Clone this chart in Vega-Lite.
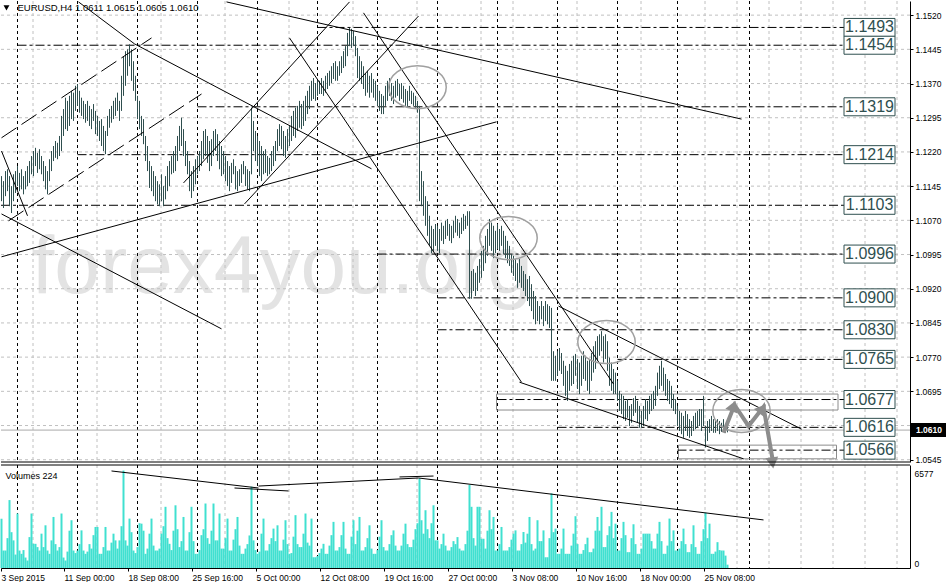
{
"$schema":"https://vega.github.io/schema/vega-lite/v6.json",
"padding":0,
"background":"#ffffff",
"spacing":3,
"bounds":"flush",
"config":{"view":{"stroke":null},"font":"Liberation Sans","axis":{"labelOverlap":false,"labelBound":false,"labelFlush":false}},
"datasets":{
"bars":[
{"i":0,"h":1.1167,"l":1.1112,"v":3300},{"i":1,"h":1.1156,"l":1.1097,"v":1170},{"i":2,"h":1.1178,"l":1.1123,"v":1170},{"i":3,"h":1.1182,"l":1.1134,"v":2000},{"i":4,"h":1.1167,"l":1.1101,"v":4550},{"i":5,"h":1.1145,"l":1.1086,"v":2400},{"i":6,"h":1.1171,"l":1.1112,"v":1850},{"i":7,"h":1.1178,"l":1.113,"v":900},{"i":8,"h":1.1189,"l":1.1145,"v":3650},{"i":9,"h":1.1174,"l":1.1134,"v":1170},
{"i":10,"h":1.1182,"l":1.1138,"v":950},{"i":11,"h":1.1167,"l":1.1127,"v":1200},{"i":12,"h":1.1178,"l":1.1138,"v":700},{"i":13,"h":1.1189,"l":1.1145,"v":500},{"i":14,"h":1.12,"l":1.1152,"v":2070},{"i":15,"h":1.1211,"l":1.1171,"v":3650},{"i":16,"h":1.1222,"l":1.1167,"v":1620},{"i":17,"h":1.1229,"l":1.1189,"v":1620},{"i":18,"h":1.1218,"l":1.1174,"v":1400},{"i":19,"h":1.1226,"l":1.1182,"v":1170},
{"i":20,"h":1.1211,"l":1.1171,"v":2300},{"i":21,"h":1.12,"l":1.1156,"v":1400},{"i":22,"h":1.1189,"l":1.1138,"v":2860},{"i":23,"h":1.1178,"l":1.1127,"v":1170},{"i":24,"h":1.1204,"l":1.1156,"v":950},{"i":25,"h":1.1222,"l":1.1178,"v":1850},{"i":26,"h":1.1233,"l":1.12,"v":3420},{"i":27,"h":1.1244,"l":1.1207,"v":1600},{"i":28,"h":1.124,"l":1.1204,"v":1170},{"i":29,"h":1.1255,"l":1.1211,"v":1400},
{"i":30,"h":1.1299,"l":1.1222,"v":3650},{"i":31,"h":1.1314,"l":1.1255,"v":700},{"i":32,"h":1.1339,"l":1.127,"v":500},{"i":33,"h":1.1332,"l":1.1266,"v":1100},{"i":34,"h":1.1343,"l":1.1277,"v":2500},{"i":35,"h":1.1354,"l":1.1292,"v":3200},{"i":36,"h":1.135,"l":1.1288,"v":1170},{"i":37,"h":1.1365,"l":1.131,"v":1000},{"i":38,"h":1.1369,"l":1.1321,"v":1170},{"i":39,"h":1.1354,"l":1.1306,"v":1600},
{"i":40,"h":1.1339,"l":1.1299,"v":2520},{"i":41,"h":1.1332,"l":1.1292,"v":1170},{"i":42,"h":1.1325,"l":1.1284,"v":950},{"i":43,"h":1.1332,"l":1.1288,"v":1100},{"i":44,"h":1.1321,"l":1.1277,"v":1600},{"i":45,"h":1.1314,"l":1.127,"v":1300},{"i":46,"h":1.1325,"l":1.1288,"v":2200},{"i":47,"h":1.131,"l":1.1259,"v":2750},{"i":48,"h":1.1299,"l":1.1255,"v":2750},{"i":49,"h":1.1288,"l":1.1244,"v":950},
{"i":50,"h":1.1292,"l":1.1233,"v":950},{"i":51,"h":1.1277,"l":1.1222,"v":1400},{"i":52,"h":1.1266,"l":1.1215,"v":2750},{"i":53,"h":1.1299,"l":1.1255,"v":1170},{"i":54,"h":1.1314,"l":1.1273,"v":1170},{"i":55,"h":1.1321,"l":1.1284,"v":1700},{"i":56,"h":1.1332,"l":1.1292,"v":2300},{"i":57,"h":1.1339,"l":1.1299,"v":1850},{"i":58,"h":1.135,"l":1.131,"v":1300},{"i":59,"h":1.1332,"l":1.1288,"v":1850},
{"i":60,"h":1.1387,"l":1.131,"v":2800},{"i":61,"h":1.143,"l":1.1343,"v":6525},{"i":62,"h":1.1441,"l":1.1365,"v":1850},{"i":63,"h":1.1445,"l":1.1387,"v":1500},{"i":64,"h":1.1456,"l":1.1408,"v":3310},{"i":65,"h":1.1445,"l":1.1376,"v":2400},{"i":66,"h":1.1419,"l":1.1354,"v":1170},{"i":67,"h":1.1387,"l":1.1332,"v":1000},{"i":68,"h":1.1343,"l":1.1292,"v":1400},{"i":69,"h":1.1332,"l":1.127,"v":3000},
{"i":70,"h":1.1299,"l":1.1255,"v":2970},{"i":71,"h":1.1292,"l":1.1237,"v":2500},{"i":72,"h":1.1255,"l":1.12,"v":950},{"i":73,"h":1.1233,"l":1.1178,"v":1300},{"i":74,"h":1.12,"l":1.1141,"v":2300},{"i":75,"h":1.1189,"l":1.1134,"v":3310},{"i":76,"h":1.1178,"l":1.1123,"v":1500},{"i":77,"h":1.1167,"l":1.1112,"v":1170},{"i":78,"h":1.1156,"l":1.1105,"v":1170},{"i":79,"h":1.1149,"l":1.1101,"v":1300},
{"i":80,"h":1.1171,"l":1.1112,"v":2300},{"i":81,"h":1.1145,"l":1.1101,"v":2800},{"i":82,"h":1.1167,"l":1.1116,"v":4100},{"i":83,"h":1.1189,"l":1.1134,"v":2000},{"i":84,"h":1.12,"l":1.1145,"v":1620},{"i":85,"h":1.1211,"l":1.1171,"v":1200},{"i":86,"h":1.1222,"l":1.1174,"v":2500},{"i":87,"h":1.1233,"l":1.1178,"v":4200},{"i":88,"h":1.1255,"l":1.12,"v":2600},{"i":89,"h":1.1277,"l":1.1222,"v":1400},
{"i":90,"h":1.1295,"l":1.1233,"v":1800},{"i":91,"h":1.127,"l":1.1211,"v":3420},{"i":92,"h":1.1244,"l":1.1189,"v":1170},{"i":93,"h":1.1222,"l":1.1171,"v":1170},{"i":94,"h":1.12,"l":1.1134,"v":2400},{"i":95,"h":1.1178,"l":1.1119,"v":4100},{"i":96,"h":1.1189,"l":1.1134,"v":1800},{"i":97,"h":1.1204,"l":1.1149,"v":950},{"i":98,"h":1.1211,"l":1.1171,"v":950},{"i":99,"h":1.1222,"l":1.1178,"v":1200},
{"i":100,"h":1.1244,"l":1.1189,"v":2200},{"i":101,"h":1.1266,"l":1.1204,"v":2600},{"i":102,"h":1.127,"l":1.1211,"v":4320},{"i":103,"h":1.1255,"l":1.1196,"v":2000},{"i":104,"h":1.1244,"l":1.1178,"v":1620},{"i":105,"h":1.1248,"l":1.1189,"v":2500},{"i":106,"h":1.1266,"l":1.1211,"v":4320},{"i":107,"h":1.127,"l":1.1222,"v":1850},{"i":108,"h":1.1259,"l":1.12,"v":1850},{"i":109,"h":1.1244,"l":1.1182,"v":3650},
{"i":110,"h":1.1233,"l":1.1167,"v":1300},{"i":111,"h":1.1222,"l":1.1171,"v":1300},{"i":112,"h":1.1211,"l":1.1156,"v":2000},{"i":113,"h":1.12,"l":1.1145,"v":3310},{"i":114,"h":1.1189,"l":1.1134,"v":1170},{"i":115,"h":1.1196,"l":1.1152,"v":1170},{"i":116,"h":1.1204,"l":1.1171,"v":1900},{"i":117,"h":1.1189,"l":1.1138,"v":2600},{"i":118,"h":1.1178,"l":1.1134,"v":3420},{"i":119,"h":1.1182,"l":1.1145,"v":1500},
{"i":120,"h":1.1193,"l":1.1152,"v":950},{"i":121,"h":1.12,"l":1.1171,"v":950},{"i":122,"h":1.1189,"l":1.1145,"v":1300},{"i":123,"h":1.1182,"l":1.1138,"v":1600},{"i":124,"h":1.1178,"l":1.1134,"v":2180},{"i":125,"h":1.1317,"l":1.1171,"v":5450},{"i":126,"h":1.1288,"l":1.1222,"v":1850},{"i":127,"h":1.1266,"l":1.12,"v":1200},{"i":128,"h":1.1255,"l":1.1189,"v":950},{"i":129,"h":1.1244,"l":1.1167,"v":1100},
{"i":130,"h":1.1233,"l":1.1156,"v":2300},{"i":131,"h":1.1222,"l":1.1171,"v":3310},{"i":132,"h":1.1226,"l":1.1174,"v":1170},{"i":133,"h":1.1211,"l":1.1167,"v":1170},{"i":134,"h":1.1207,"l":1.1171,"v":1600},{"i":135,"h":1.1222,"l":1.1178,"v":2000},{"i":136,"h":1.1233,"l":1.1189,"v":2640},{"i":137,"h":1.1244,"l":1.12,"v":1800},{"i":138,"h":1.127,"l":1.1222,"v":2860},{"i":139,"h":1.1281,"l":1.1233,"v":1170},
{"i":140,"h":1.1277,"l":1.1226,"v":1170},{"i":141,"h":1.1266,"l":1.1211,"v":1900},{"i":142,"h":1.1255,"l":1.1207,"v":3200},{"i":143,"h":1.127,"l":1.1222,"v":1600},{"i":144,"h":1.1277,"l":1.1233,"v":950},{"i":145,"h":1.1299,"l":1.1244,"v":1000},{"i":146,"h":1.131,"l":1.1255,"v":2100},{"i":147,"h":1.1317,"l":1.1251,"v":3540},{"i":148,"h":1.1321,"l":1.1266,"v":1600},{"i":149,"h":1.1332,"l":1.1273,"v":1400},
{"i":150,"h":1.1325,"l":1.127,"v":1400},{"i":151,"h":1.1332,"l":1.1277,"v":2300},{"i":152,"h":1.1343,"l":1.1288,"v":3650},{"i":153,"h":1.1354,"l":1.1303,"v":1700},{"i":154,"h":1.1365,"l":1.1314,"v":1500},{"i":155,"h":1.1376,"l":1.1332,"v":3310},{"i":156,"h":1.1382,"l":1.1336,"v":720},{"i":157,"h":1.1371,"l":1.1332,"v":720},{"i":158,"h":1.138,"l":1.1343,"v":800},{"i":159,"h":1.1376,"l":1.1347,"v":1000},
{"i":160,"h":1.1382,"l":1.1347,"v":1300},{"i":161,"h":1.1376,"l":1.1343,"v":1620},{"i":162,"h":1.1387,"l":1.135,"v":950},{"i":163,"h":1.1393,"l":1.1358,"v":950},{"i":164,"h":1.1398,"l":1.1365,"v":1500},{"i":165,"h":1.1408,"l":1.1371,"v":2200},{"i":166,"h":1.1415,"l":1.138,"v":3090},{"i":167,"h":1.1419,"l":1.1376,"v":1170},{"i":168,"h":1.1408,"l":1.1376,"v":1170},{"i":169,"h":1.1419,"l":1.1387,"v":1400},
{"i":170,"h":1.143,"l":1.1393,"v":2200},{"i":171,"h":1.1441,"l":1.1404,"v":3090},{"i":172,"h":1.1452,"l":1.1408,"v":1300},{"i":173,"h":1.1481,"l":1.143,"v":950},{"i":174,"h":1.1492,"l":1.1452,"v":950},{"i":175,"h":1.149,"l":1.1448,"v":2100},{"i":176,"h":1.1485,"l":1.1452,"v":3200},{"i":177,"h":1.1474,"l":1.143,"v":1600},{"i":178,"h":1.1448,"l":1.1382,"v":2500},{"i":179,"h":1.143,"l":1.1376,"v":3420},
{"i":180,"h":1.1419,"l":1.1369,"v":1170},{"i":181,"h":1.1408,"l":1.1358,"v":1170},{"i":182,"h":1.1393,"l":1.1343,"v":1400},{"i":183,"h":1.1398,"l":1.135,"v":2000},{"i":184,"h":1.1387,"l":1.1339,"v":2860},{"i":185,"h":1.1393,"l":1.135,"v":1300},{"i":186,"h":1.138,"l":1.1339,"v":950},{"i":187,"h":1.1376,"l":1.1332,"v":950},{"i":188,"h":1.1365,"l":1.1321,"v":1200},{"i":189,"h":1.1354,"l":1.131,"v":2100},
{"i":190,"h":1.1347,"l":1.1303,"v":3200},{"i":191,"h":1.1343,"l":1.1303,"v":1400},{"i":192,"h":1.1365,"l":1.1321,"v":1170},{"i":193,"h":1.1376,"l":1.1332,"v":1170},{"i":194,"h":1.1382,"l":1.1343,"v":1600},{"i":195,"h":1.1371,"l":1.1332,"v":2200},{"i":196,"h":1.1365,"l":1.1325,"v":2520},{"i":197,"h":1.1376,"l":1.1339,"v":1500},{"i":198,"h":1.138,"l":1.1343,"v":1170},{"i":199,"h":1.1369,"l":1.1332,"v":1170},
{"i":200,"h":1.1371,"l":1.1336,"v":1500},{"i":201,"h":1.1365,"l":1.1328,"v":2300},{"i":202,"h":1.1358,"l":1.1321,"v":2970},{"i":203,"h":1.1354,"l":1.1317,"v":1600},{"i":204,"h":1.1365,"l":1.1332,"v":1400},{"i":205,"h":1.1354,"l":1.1325,"v":1400},{"i":206,"h":1.135,"l":1.1321,"v":1900},{"i":207,"h":1.1343,"l":1.1317,"v":2600},{"i":208,"h":1.1332,"l":1.1306,"v":3000},{"i":209,"h":1.1321,"l":1.1112,"v":6000},
{"i":210,"h":1.1178,"l":1.1101,"v":3200},{"i":211,"h":1.1156,"l":1.108,"v":2300},{"i":212,"h":1.1123,"l":1.1058,"v":3870},{"i":213,"h":1.1112,"l":1.1036,"v":2600},{"i":214,"h":1.108,"l":1.1014,"v":2000},{"i":215,"h":1.1058,"l":1.0998,"v":3000},{"i":216,"h":1.1051,"l":1.1003,"v":4200},{"i":217,"h":1.1062,"l":1.1014,"v":1850},{"i":218,"h":1.1058,"l":1.1003,"v":1850},{"i":219,"h":1.1051,"l":1.0998,"v":1300},
{"i":220,"h":1.1065,"l":1.1025,"v":1600},{"i":221,"h":1.1058,"l":1.1018,"v":2300},{"i":222,"h":1.1069,"l":1.1029,"v":1500},{"i":223,"h":1.1073,"l":1.1036,"v":1170},{"i":224,"h":1.1062,"l":1.1025,"v":1170},{"i":225,"h":1.1058,"l":1.102,"v":1400},{"i":226,"h":1.1069,"l":1.1031,"v":1800},{"i":227,"h":1.108,"l":1.1043,"v":1600},{"i":228,"h":1.1073,"l":1.1036,"v":2070},{"i":229,"h":1.1065,"l":1.1031,"v":1300},
{"i":230,"h":1.1076,"l":1.104,"v":1170},{"i":231,"h":1.1084,"l":1.1047,"v":1170},{"i":232,"h":1.108,"l":1.1051,"v":1600},{"i":233,"h":1.109,"l":1.1058,"v":2500},{"i":234,"h":1.109,"l":1.0898,"v":5560},{"i":235,"h":1.0959,"l":1.0898,"v":4100},{"i":236,"h":1.0963,"l":1.0915,"v":2000},{"i":237,"h":1.0955,"l":1.0904,"v":1500},{"i":238,"h":1.097,"l":1.0915,"v":4100},{"i":239,"h":1.0985,"l":1.0933,"v":4100},
{"i":240,"h":1.1003,"l":1.0944,"v":1960},{"i":241,"h":1.1014,"l":1.0959,"v":1960},{"i":242,"h":1.1036,"l":1.0976,"v":1300},{"i":243,"h":1.1051,"l":1.0992,"v":2500},{"i":244,"h":1.1073,"l":1.1014,"v":3870},{"i":245,"h":1.1065,"l":1.1003,"v":2600},{"i":246,"h":1.1058,"l":1.0987,"v":3420},{"i":247,"h":1.1047,"l":1.0998,"v":1170},{"i":248,"h":1.1062,"l":1.1007,"v":1170},{"i":249,"h":1.1051,"l":1.1003,"v":1600},
{"i":250,"h":1.1058,"l":1.1014,"v":2750},{"i":251,"h":1.1047,"l":1.0996,"v":1170},{"i":252,"h":1.1036,"l":1.0987,"v":1170},{"i":253,"h":1.1025,"l":1.0976,"v":1170},{"i":254,"h":1.1014,"l":1.097,"v":1400},{"i":255,"h":1.0996,"l":1.0955,"v":1900},{"i":256,"h":1.0992,"l":1.0948,"v":2300},{"i":257,"h":1.0985,"l":1.0937,"v":2520},{"i":258,"h":1.0976,"l":1.0922,"v":1170},{"i":259,"h":1.0985,"l":1.0933,"v":1170},
{"i":260,"h":1.097,"l":1.0922,"v":1600},{"i":261,"h":1.0959,"l":1.0915,"v":2410},{"i":262,"h":1.0952,"l":1.0904,"v":1700},{"i":263,"h":1.0941,"l":1.0893,"v":2300},{"i":264,"h":1.0948,"l":1.0882,"v":3420},{"i":265,"h":1.093,"l":1.0871,"v":1600},{"i":266,"h":1.0915,"l":1.0853,"v":1170},{"i":267,"h":1.0904,"l":1.0842,"v":1300},{"i":268,"h":1.0893,"l":1.0849,"v":3200},{"i":269,"h":1.0882,"l":1.0842,"v":1800},
{"i":270,"h":1.0893,"l":1.0853,"v":1800},{"i":271,"h":1.0882,"l":1.0838,"v":2520},{"i":272,"h":1.0893,"l":1.0849,"v":720},{"i":273,"h":1.0886,"l":1.0842,"v":720},{"i":274,"h":1.0882,"l":1.0834,"v":2000},{"i":275,"h":1.0878,"l":1.0718,"v":5000},{"i":276,"h":1.0783,"l":1.0718,"v":2400},{"i":277,"h":1.0773,"l":1.0718,"v":2640},{"i":278,"h":1.0783,"l":1.0729,"v":950},{"i":279,"h":1.079,"l":1.074,"v":950},
{"i":280,"h":1.0779,"l":1.0733,"v":1300},{"i":281,"h":1.0762,"l":1.0707,"v":2640},{"i":282,"h":1.0751,"l":1.0685,"v":950},{"i":283,"h":1.074,"l":1.0674,"v":950},{"i":284,"h":1.0755,"l":1.0696,"v":950},{"i":285,"h":1.0762,"l":1.0707,"v":1500},{"i":286,"h":1.0773,"l":1.0711,"v":2300},{"i":287,"h":1.0777,"l":1.0729,"v":3470},{"i":288,"h":1.0766,"l":1.07,"v":1600},{"i":289,"h":1.0758,"l":1.0689,"v":950},
{"i":290,"h":1.0773,"l":1.0707,"v":950},{"i":291,"h":1.0783,"l":1.0722,"v":1200},{"i":292,"h":1.0773,"l":1.0718,"v":1600},{"i":293,"h":1.0762,"l":1.0696,"v":2030},{"i":294,"h":1.0766,"l":1.0689,"v":1060},{"i":295,"h":1.0779,"l":1.0718,"v":1060},{"i":296,"h":1.0794,"l":1.0736,"v":1300},{"i":297,"h":1.0805,"l":1.0744,"v":2500},{"i":298,"h":1.0816,"l":1.0762,"v":3420},{"i":299,"h":1.082,"l":1.0773,"v":2500},
{"i":300,"h":1.0827,"l":1.0783,"v":4100},{"i":301,"h":1.0816,"l":1.0758,"v":1400},{"i":302,"h":1.082,"l":1.0766,"v":1400},{"i":303,"h":1.0805,"l":1.074,"v":2200},{"i":304,"h":1.0769,"l":1.0707,"v":2800},{"i":305,"h":1.0758,"l":1.0696,"v":3760},{"i":306,"h":1.0744,"l":1.0689,"v":2000},{"i":307,"h":1.0736,"l":1.0689,"v":2970},{"i":308,"h":1.0718,"l":1.0674,"v":1170},{"i":309,"h":1.0696,"l":1.0652,"v":1170},
{"i":310,"h":1.0689,"l":1.0645,"v":2000},{"i":311,"h":1.0685,"l":1.0634,"v":3090},{"i":312,"h":1.0674,"l":1.063,"v":2200},{"i":313,"h":1.0678,"l":1.0637,"v":1060},{"i":314,"h":1.0663,"l":1.0619,"v":1060},{"i":315,"h":1.0667,"l":1.0626,"v":2000},{"i":316,"h":1.068,"l":1.0641,"v":2930},{"i":317,"h":1.0685,"l":1.0648,"v":1600},{"i":318,"h":1.0674,"l":1.0626,"v":950},{"i":319,"h":1.0663,"l":1.0615,"v":950},
{"i":320,"h":1.0652,"l":1.0615,"v":1300},{"i":321,"h":1.0663,"l":1.0619,"v":2300},{"i":322,"h":1.0678,"l":1.0634,"v":2300},{"i":323,"h":1.0674,"l":1.063,"v":2300},{"i":324,"h":1.0685,"l":1.0645,"v":2300},{"i":325,"h":1.0689,"l":1.0652,"v":1800},{"i":326,"h":1.0696,"l":1.0656,"v":1300},{"i":327,"h":1.0707,"l":1.0663,"v":1300},{"i":328,"h":1.0736,"l":1.0685,"v":2300},{"i":329,"h":1.0751,"l":1.07,"v":3090},
{"i":330,"h":1.0762,"l":1.0707,"v":1800},{"i":331,"h":1.0747,"l":1.0696,"v":950},{"i":332,"h":1.0733,"l":1.0685,"v":950},{"i":333,"h":1.0722,"l":1.0674,"v":1500},{"i":334,"h":1.0718,"l":1.0667,"v":3310},{"i":335,"h":1.0707,"l":1.0658,"v":1800},{"i":336,"h":1.0689,"l":1.0652,"v":2520},{"i":337,"h":1.0678,"l":1.0645,"v":1170},{"i":338,"h":1.0663,"l":1.0619,"v":1170},{"i":339,"h":1.0652,"l":1.0608,"v":1300},
{"i":340,"h":1.0648,"l":1.0601,"v":1800},{"i":341,"h":1.0641,"l":1.0593,"v":2640},{"i":342,"h":1.0652,"l":1.0608,"v":1600},{"i":343,"h":1.0645,"l":1.0597,"v":1060},{"i":344,"h":1.0634,"l":1.0593,"v":1060},{"i":345,"h":1.063,"l":1.0597,"v":1600},{"i":346,"h":1.0641,"l":1.0608,"v":2860},{"i":347,"h":1.0648,"l":1.0612,"v":1400},{"i":348,"h":1.0652,"l":1.0615,"v":950},{"i":349,"h":1.0656,"l":1.0619,"v":950},
{"i":350,"h":1.0656,"l":1.0608,"v":1800},{"i":351,"h":1.0685,"l":1.0619,"v":2600},{"i":352,"h":1.0619,"l":1.0572,"v":3700},{"i":353,"h":1.063,"l":1.0586,"v":2000},{"i":354,"h":1.0634,"l":1.0604,"v":2970},{"i":355,"h":1.0641,"l":1.0608,"v":950},{"i":356,"h":1.0634,"l":1.0604,"v":950},{"i":357,"h":1.063,"l":1.0604,"v":1100},{"i":358,"h":1.0634,"l":1.0608,"v":1730},{"i":359,"h":1.063,"l":1.0601,"v":1200},
{"i":360,"h":1.0626,"l":1.0606,"v":1170},{"i":361,"h":1.0634,"l":1.0612,"v":1170},{"i":362,"h":1.0619,"l":1.0604,"v":830},{"i":363,"h":1.0615,"l":1.0605,"v":224}
],
"hgrid":[{"t":1.0545},{"t":1.062},{"t":1.0695},{"t":1.077},{"t":1.0845},{"t":1.092},{"t":1.0995},{"t":1.107},{"t":1.1145},{"t":1.122},{"t":1.1295},{"t":1.137},{"t":1.1445},{"t":1.152}],
"vgrid":[{"g":15.75},{"g":47.75},{"g":79.75},{"g":111.75},{"g":143.75},{"g":175.75},{"g":207.75},{"g":239.75},{"g":255.75},{"g":287.75},{"g":319.75},{"g":351.75},{"g":367.75},{"g":383.75},{"g":399.75},{"g":415.75},{"g":431.75},{"g":447.75}],
"seps":[{"s":8},{"s":38},{"s":68},{"s":98},{"s":128},{"s":158},{"s":188},{"s":218},{"s":248},{"s":278},{"s":308},{"s":338},{"s":374}],
"levels":[{"p":1.1493,"s":158},{"p":1.1454,"s":8},{"p":1.1319,"s":98},{"p":1.1214,"s":38},{"p":1.1103,"s":-0.25},{"p":1.0996,"s":188},{"p":1.09,"s":218},{"p":1.083,"s":218},{"p":1.0765,"s":308},{"p":1.0677,"s":248},{"p":1.0616,"s":278},{"p":1.0566,"s":338}],
"trend":[{"x1":0,"y1":1.099,"x2":247.5,"y2":1.1286},{"x1":0,"y1":1.1222,"x2":13,"y2":1.108},{"x1":0,"y1":1.1084,"x2":110,"y2":1.0832},{"x1":38.5,"y1":1.1549,"x2":66.5,"y2":1.1457},{"x1":66.5,"y1":1.1457,"x2":185,"y2":1.1183},{"x1":112.5,"y1":1.1549,"x2":370,"y2":1.1292},{"x1":121.5,"y1":1.1106,"x2":208.5,"y2":1.1518},{"x1":91,"y1":1.1152,"x2":174,"y2":1.1549},{"x1":181,"y1":1.1525,"x2":306,"y2":1.0711},{"x1":144,"y1":1.147,"x2":260,"y2":1.0715},{"x1":259,"y1":1.0715,"x2":371,"y2":1.0547},{"x1":278.5,"y1":1.0882,"x2":400,"y2":1.0612}],
"dashed":[{"x1":0,"y1":1.1251,"x2":75,"y2":1.147},{"x1":3.5,"y1":1.1069,"x2":100,"y2":1.1347}],
"vtrend":[{"x1":55,"y1":6500,"x2":128.5,"y2":5360},{"x1":116.5,"y1":5360,"x2":143.5,"y2":5160},{"x1":128.5,"y1":5490,"x2":208.5,"y2":6030},{"x1":199,"y1":6100,"x2":216,"y2":6160},{"x1":208.5,"y1":6030,"x2":381,"y2":3220}],
"ellipses":[{"x":208,"y":1.1362},{"x":253.5,"y":1.1031},{"x":302.5,"y":1.0803},{"x":370,"y":1.0652}],
"arrow":[{"k":1,"x":361,"y":1.0604},{"k":2,"x":366.5,"y":1.0665},{"k":3,"x":373.5,"y":1.0619},{"k":4,"x":381,"y":1.0661},{"k":5,"x":385.5,"y":1.0547}],
"zones":[{"x1":247.5,"x2":418.25,"y1":1.0689,"y2":1.0654},{"x1":338.5,"x2":417.5,"y1":1.0577,"y2":1.0547}]
},
"vconcat":[
{
"width":909,"height":461,
"layer":[
{"data":{"values":[{}]},"mark":{"type":"text","text":"forex4you.org","font":"Liberation Sans","fontSize":82,"color":"#e3e3e3","align":"left","baseline":"alphabetic"},
 "encoding":{"x":{"datum":15,"type":"quantitative","scale":{"domain":[-0.25,454.25],"nice":false,"zero":false},"axis":null},"y":{"datum":1.0911,"type":"quantitative","title":null,"scale":{"domain":[1.054,1.1551],"nice":false,"zero":false}}}},
{"data":{"name":"hgrid"},"mark":{"type":"rule","color":"#c0c0c0","strokeDash":[3,3],"strokeWidth":1},"encoding":{"y":{"field":"t","type":"quantitative","title":null}}},
{"data":{"name":"vgrid"},"mark":{"type":"rule","color":"#c0c0c0","strokeDash":[3,3],"strokeWidth":1},"encoding":{"x":{"field":"g","type":"quantitative","axis":null}}},
{"data":{"name":"seps"},"mark":{"type":"rule","color":"#000000","strokeDash":[3,3],"strokeWidth":1},"encoding":{"x":{"field":"s","type":"quantitative","axis":null}}},
{"data":{"name":"zones"},"mark":{"type":"rect","fillOpacity":0,"stroke":"#8c8c8c","strokeWidth":1},"encoding":{"x":{"field":"x1","type":"quantitative","axis":null},"x2":{"field":"x2"},"y":{"field":"y1","type":"quantitative","title":null},"y2":{"field":"y2"}}},
{"data":{"values":[{}]},"mark":{"type":"rule","color":"#a9a9a9","strokeWidth":1},"encoding":{"y":{"datum":1.061,"type":"quantitative","title":null}}},
{"data":{"name":"levels"},"mark":{"type":"rule","color":"#000000","strokeDash":[9,3,3,3],"strokeWidth":1},"encoding":{"x":{"field":"s","type":"quantitative","axis":null},"x2":{"datum":421.25},"y":{"field":"p","type":"quantitative","title":null}}},
{"data":{"name":"bars"},"mark":{"type":"rule","color":"#2f4f4f","strokeWidth":1},
 "encoding":{"x":{"field":"i","type":"quantitative","scale":{"domain":[-0.25,454.25],"nice":false,"zero":false},"axis":null},
 "y":{"field":"l","type":"quantitative","title":null,"scale":{"domain":[1.054,1.1551],"nice":false,"zero":false},
  "axis":{"orient":"right","values":[1.0545,1.062,1.0695,1.077,1.0845,1.092,1.0995,1.107,1.1145,1.122,1.1295,1.137,1.1445,1.152],"format":".4f","title":null,"grid":false,"domain":true,"domainColor":"#000000","domainWidth":1,"ticks":true,"tickColor":"#000000","tickSize":3,"labelPadding":2,"labelFont":"Liberation Sans","labelFontSize":8.5,"labelColor":"#000000","labelOverlap":false,"labelBound":false,"labelFlush":false,"tickCount":14}},
 "y2":{"field":"h"}}},
{"data":{"name":"trend"},"mark":{"type":"rule","color":"#000000","strokeWidth":1},"encoding":{"x":{"field":"x1","type":"quantitative","axis":null},"y":{"field":"y1","type":"quantitative","title":null},"x2":{"field":"x2"},"y2":{"field":"y2"}}},
{"data":{"name":"dashed"},"mark":{"type":"rule","color":"#000000","strokeWidth":1,"strokeDash":[18,6]},"encoding":{"x":{"field":"x1","type":"quantitative","axis":null},"y":{"field":"y1","type":"quantitative","title":null},"x2":{"field":"x2"},"y2":{"field":"y2"}}},
{"data":{"name":"ellipses"},"mark":{"type":"point","shape":"M -1 0 A 1 0.75 0 1 1 1 0 A 1 0.75 0 1 1 -1 0 Z","size":3300,"filled":false,"stroke":"#a0a0a0","strokeWidth":1.5,"opacity":1},"encoding":{"x":{"field":"x","type":"quantitative","axis":null},"y":{"field":"y","type":"quantitative","title":null}}},
{"data":{"name":"arrow"},"mark":{"type":"line","color":"#8c8c8c","strokeWidth":4},"encoding":{"x":{"field":"x","type":"quantitative","axis":null},"y":{"field":"y","type":"quantitative","title":null},"order":{"field":"k","type":"quantitative"}}},
{"data":{"values":[{}]},"mark":{"type":"point","shape":"triangle-up","filled":true,"color":"#8c8c8c","size":170,"angle":21,"opacity":1},"encoding":{"x":{"datum":366,"type":"quantitative","axis":null},"y":{"datum":1.0663,"type":"quantitative","title":null}}},
{"data":{"values":[{}]},"mark":{"type":"point","shape":"triangle-up","filled":true,"color":"#8c8c8c","size":170,"angle":38,"opacity":1},"encoding":{"x":{"datum":380.5,"type":"quantitative","axis":null},"y":{"datum":1.0657,"type":"quantitative","title":null}}},
{"data":{"values":[{}]},"mark":{"type":"point","shape":"triangle-up","filled":true,"color":"#8c8c8c","size":170,"angle":172,"opacity":1},"encoding":{"x":{"datum":385.5,"type":"quantitative","axis":null},"y":{"datum":1.0538,"type":"quantitative","title":null}}},
{"data":{"name":"levels"},"mark":{"type":"point","shape":"M -1 -0.353 L 1 -0.353 L 1 0.353 L -1 0.353 Z","size":2601,"filled":true,"fill":"#ffffff","stroke":"#2f4f4f","strokeWidth":1,"opacity":1},"encoding":{"x":{"datum":434,"type":"quantitative","axis":null},"y":{"field":"p","type":"quantitative","title":null}}},
{"data":{"name":"levels"},"mark":{"type":"text","font":"Liberation Sans","fontSize":16,"color":"#2f4f4f","align":"center","baseline":"middle"},"encoding":{"x":{"datum":434,"type":"quantitative","axis":null},"y":{"field":"p","type":"quantitative","title":null},"text":{"field":"p","type":"quantitative","format":".4f"}}},
{"data":{"values":[{}]},"mark":{"type":"point","shape":"triangle-down","filled":true,"color":"#000000","size":35,"opacity":1},"encoding":{"x":{"datum":2.5,"type":"quantitative","axis":null},"y":{"datum":1.1536,"type":"quantitative","title":null}}},
{"data":{"values":[{}]},"mark":{"type":"text","text":"EURUSD,H4  1.0611 1.0615 1.0605 1.0610","font":"Liberation Sans","fontSize":9.5,"color":"#000000","align":"left","baseline":"middle"},"encoding":{"x":{"datum":8,"type":"quantitative","axis":null},"y":{"datum":1.1536,"type":"quantitative","title":null}}},
{"data":{"values":[{}]},"mark":{"type":"point","shape":"M -1 -0.39 L 1 -0.39 L 1 0.39 L -1 0.39 Z","size":1296,"filled":true,"color":"#000000","opacity":1},"encoding":{"x":{"datum":463.75,"type":"quantitative","axis":null},"y":{"datum":1.061,"type":"quantitative","title":null}}},
{"data":{"values":[{}]},"mark":{"type":"text","text":"1.0610","font":"Liberation Sans","fontSize":8.5,"fontWeight":"bold","color":"#ffffff","align":"center","baseline":"middle"},"encoding":{"x":{"datum":463.75,"type":"quantitative","axis":null},"y":{"datum":1.061,"type":"quantitative","title":null}}},
{"data":{"values":[{}]},"mark":{"type":"rule","color":"#000000","strokeWidth":1},"encoding":{"y":{"datum":1.054,"type":"quantitative","title":null}}}
]
},
{
"width":909,"height":103,
"layer":[
{"data":{"name":"vgrid"},"mark":{"type":"rule","color":"#c0c0c0","strokeDash":[3,3],"strokeWidth":1},"encoding":{"x":{"field":"g","type":"quantitative","title":null}}},
{"data":{"name":"seps"},"mark":{"type":"rule","color":"#000000","strokeDash":[3,3],"strokeWidth":1},"encoding":{"x":{"field":"s","type":"quantitative","title":null}}},
{"data":{"name":"bars"},"mark":{"type":"rule","color":"#40e0d0","strokeWidth":2},
 "encoding":{"x":{"field":"i","type":"quantitative","title":null,"scale":{"domain":[-0.25,454.25],"nice":false,"zero":false},
  "axis":{"orient":"bottom","values":[-0.25,31.25,63.25,95.25,127.25,159.25,191.25,223.25,255.25,287.25,319.25,351.25],"labelExpr":"['3 Sep 2015','11 Sep 00:00','18 Sep 08:00','25 Sep 16:00','5 Oct 00:00','12 Oct 08:00','19 Oct 16:00','27 Oct 00:00','3 Nov 08:00','10 Nov 16:00','18 Nov 00:00','25 Nov 08:00'][round((datum.value+0.25)/32)]","title":null,"grid":false,"domainColor":"#000000","tickColor":"#000000","tickSize":3,"labelAlign":"left","labelFlush":false,"labelOverlap":false,"labelPadding":2,"labelFont":"Liberation Sans","labelFontSize":8.5,"labelColor":"#000000"}},
 "y":{"field":"v","type":"quantitative","title":null,"scale":{"domain":[0,6900],"nice":false,"zero":false},
  "axis":{"orient":"right","values":[0,6577],"format":"d","title":null,"grid":false,"ticks":false,"domainColor":"#000000","labelPadding":4,"labelFont":"Liberation Sans","labelFontSize":8.5,"labelColor":"#000000","labelOverlap":false,"labelBaseline":{"condition":{"test":"datum.value == 0","value":"bottom"},"value":"top"}}},
 "y2":{"datum":0}}},
{"data":{"name":"vtrend"},"mark":{"type":"rule","color":"#000000","strokeWidth":1},"encoding":{"x":{"field":"x1","type":"quantitative","title":null},"y":{"field":"y1","type":"quantitative","title":null},"x2":{"field":"x2"},"y2":{"field":"y2"}}},
{"data":{"values":[{}]},"mark":{"type":"text","text":"Volumes 224","font":"Liberation Sans","fontSize":9,"color":"#000000","align":"left","baseline":"middle"},"encoding":{"x":{"datum":2,"type":"quantitative","title":null},"y":{"datum":6160,"type":"quantitative","title":null}}},
{"data":{"values":[{}]},"mark":{"type":"rule","color":"#000000","strokeWidth":1},"encoding":{"y":{"datum":6900,"type":"quantitative","title":null}}}
]
}
]
}
